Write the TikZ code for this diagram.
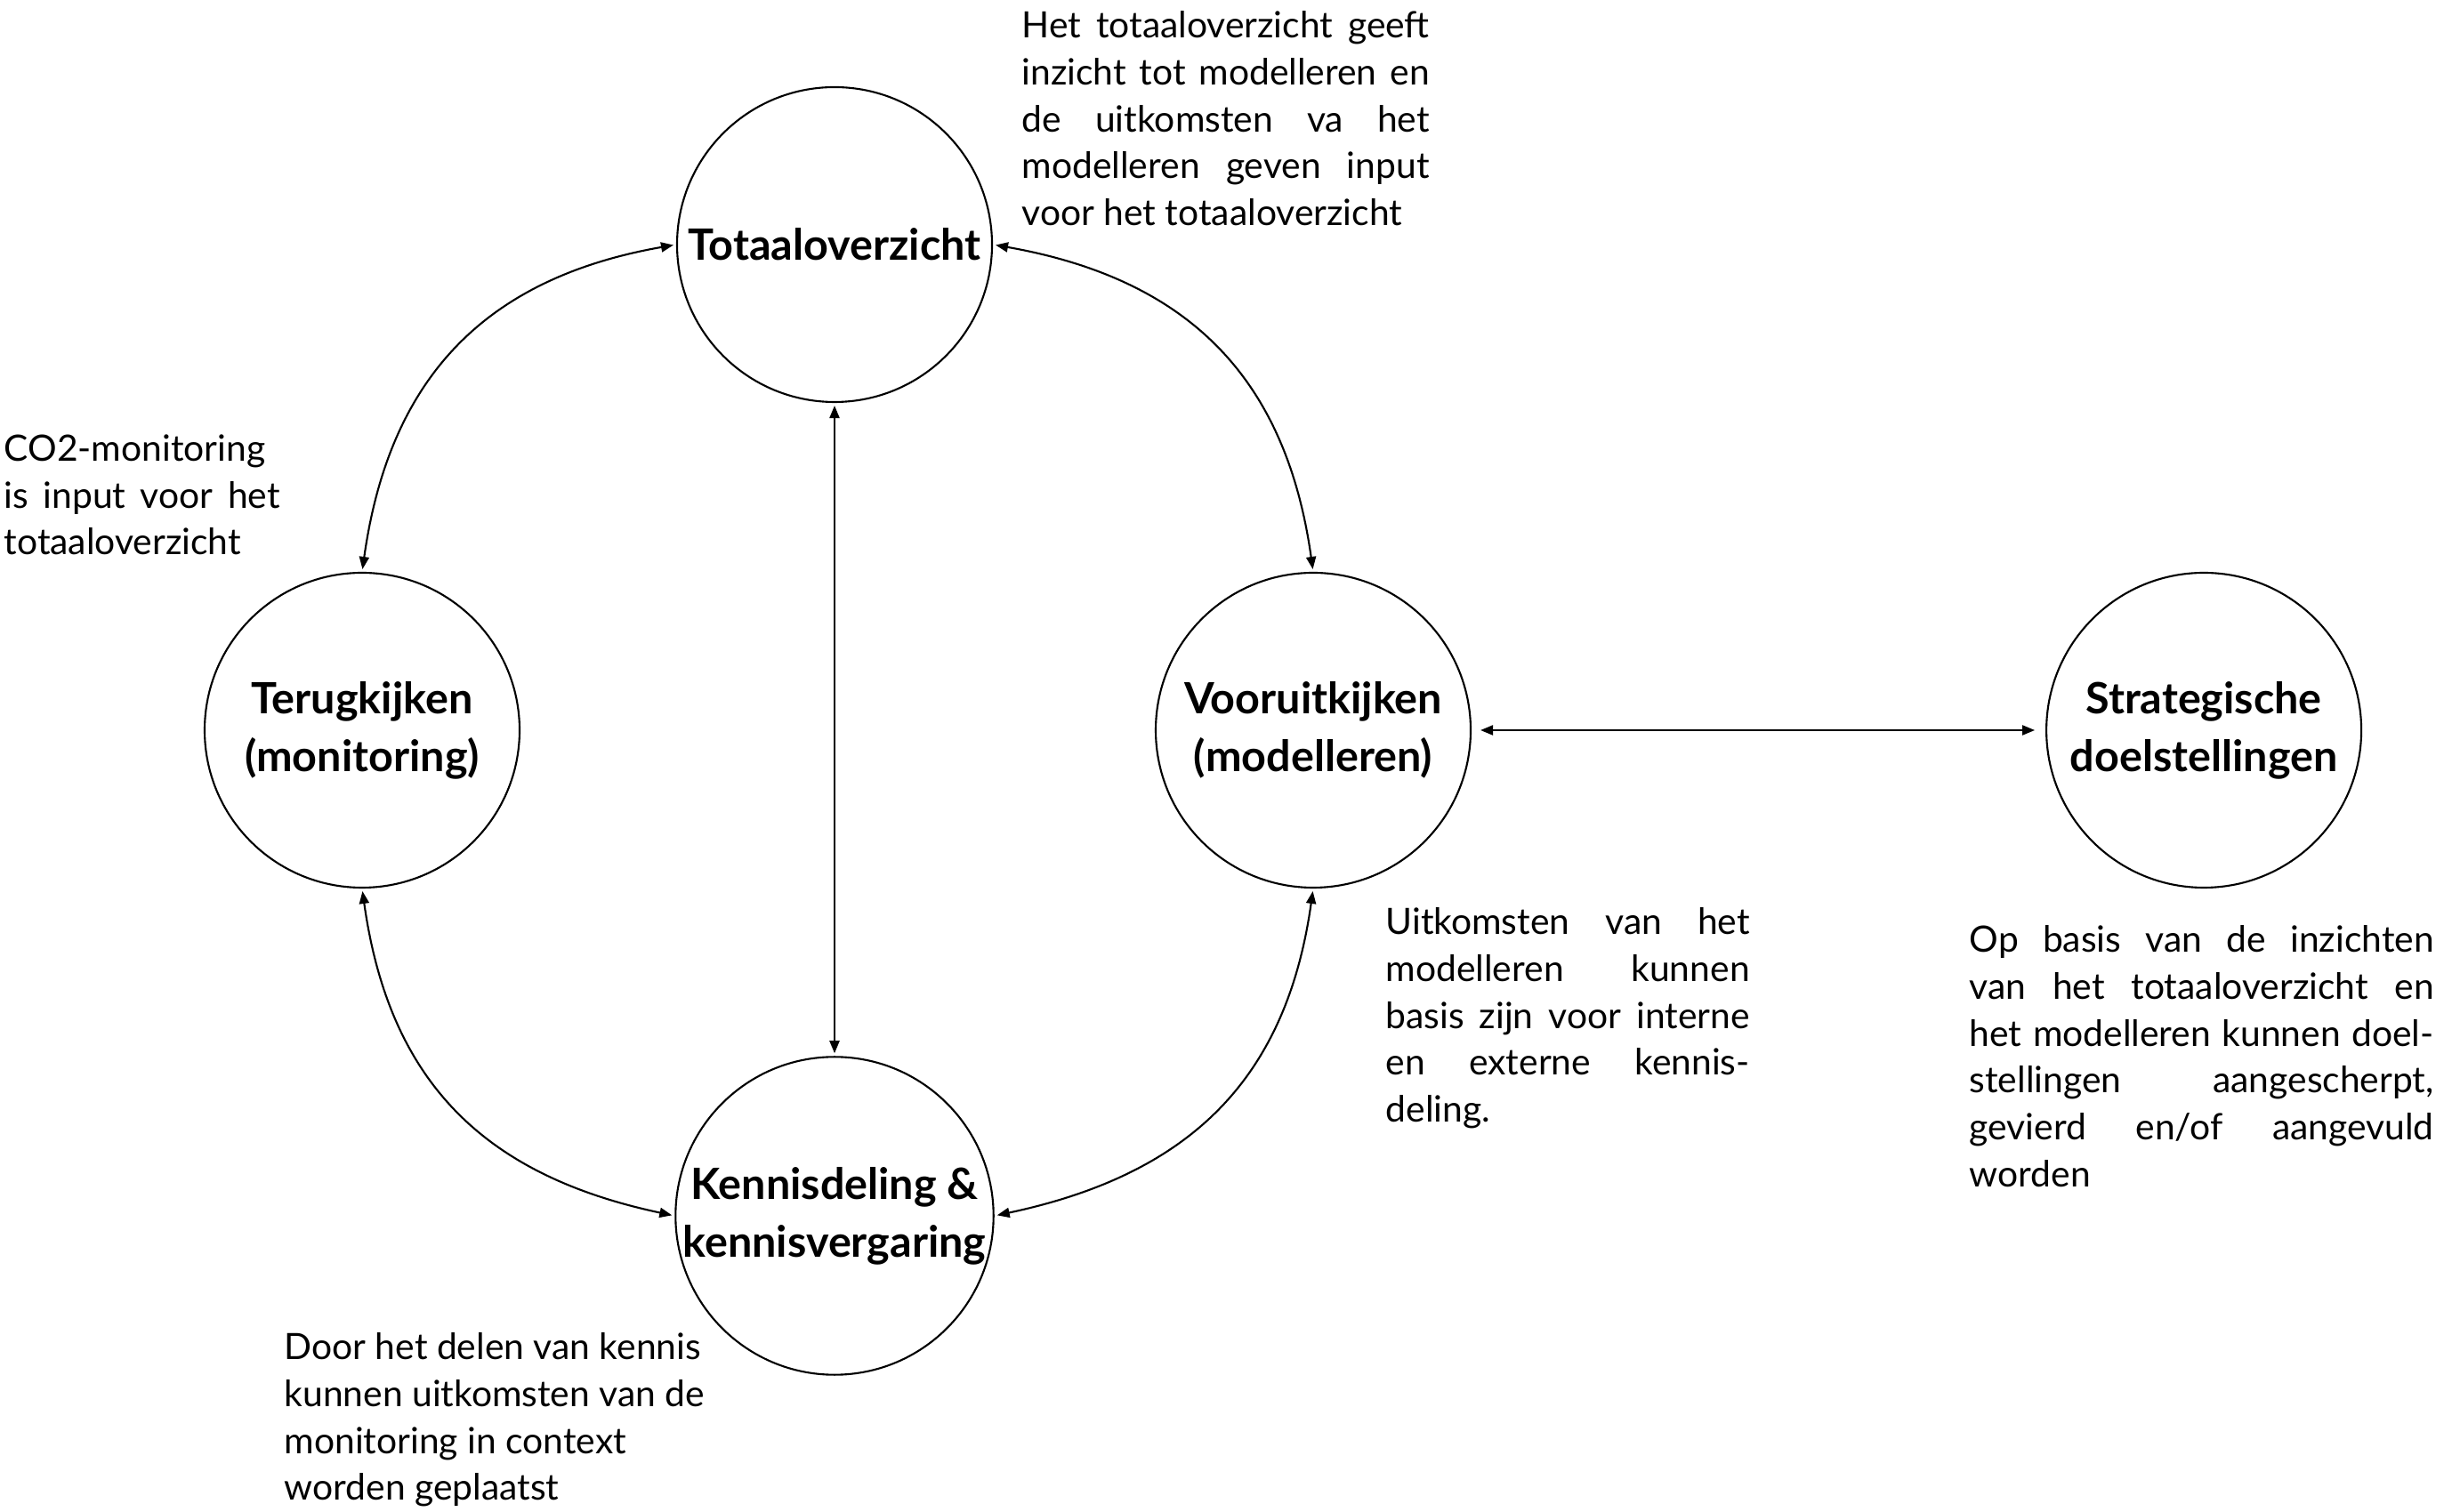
\documentclass[tikz,border=0pt]{standalone}
\usepackage{fontspec}
\setmainfont{Lato}
\usetikzlibrary{arrows.meta,positioning}

\begin{document}
\begin{tikzpicture}[
  every node/.style={font=\fontsize{11.6}{15}\selectfont},
  stage/.style={circle, draw, line width=0.6pt, minimum size=3.54cm, inner sep=0pt, align=center, font=\fontsize{13.8}{18.5}\selectfont\bfseries},
  link/.style={{Triangle[length=1.4mm,width=1.1mm]}-{Triangle[length=1.4mm,width=1.1mm]}, line width=0.6pt, shorten <=0.3mm, shorten >=0.3mm},
  note/.style={anchor=north west, inner sep=0pt, text width=#1, align=justify}
]
\useasboundingbox (0,0) rectangle (27.65,17);

% the four stages of the cycle
\node[stage] (totaal)  at (9.38,14.25) {Totaaloverzicht};
\node[stage] (terug)   at (4.07,8.79)  {Terugkijken\\(monitoring)};
\node[stage] (vooruit) at (14.76,8.79) {Vooruitkijken\\(modelleren)};
\node[stage] (kennis)  at (9.38,3.33)  {Kennisdeling \&\\kennisvergaring};
\node[stage, right=6.45cm of vooruit] (strat) {Strategische\\doelstellingen};

% notes
\node[note=4.58cm] (totaalnote) at (11.48,16.88)
  {Het totaaloverzicht geeft\linebreak inzicht tot modelleren en\linebreak de uitkomsten va het\linebreak modelleren geven input\linebreak voor het totaaloverzicht};
\node[note=3.10cm] (terugnote) at (0.04,12.12)
  {CO2-monitoring\linebreak is input voor het\linebreak totaaloverzicht};
\node[note=4.09cm] (vooruitnote) at (15.57,6.80)
  {Uitkomsten van het\linebreak modelleren kunnen\linebreak basis zijn voor interne\linebreak en externe kennis-\linebreak deling.};
\node[note=5.22cm] (stratnote) at (22.13,6.60)
  {Op basis van de inzichten\linebreak van het totaaloverzicht en\linebreak het modelleren kunnen doel-\linebreak stellingen aangescherpt,\linebreak gevierd en/of aangevuld\linebreak worden};
\node[anchor=north west, inner sep=0pt, align=left] (kennisnote) at (3.19,2.02)
  {Door het delen van kennis\\kunnen uitkomsten van de\\monitoring in context\\worden geplaatst};

% connections
\draw[link] (totaal.west) to[out=190,in=82,looseness=1.1] (terug.north);
\draw[link] (totaal.east) to[out=-10,in=98,looseness=1.1] (vooruit.north);
\draw[link] (terug.south) to[out=-82,in=168,looseness=1.1] (kennis.west);
\draw[link] (vooruit.south) to[out=-98,in=12,looseness=1.1] (kennis.east);
\draw[link] (totaal) -- (kennis);
\draw[link, shorten <=1mm, shorten >=1.2mm] (vooruit) -- (strat);
\end{tikzpicture}
\end{document}
